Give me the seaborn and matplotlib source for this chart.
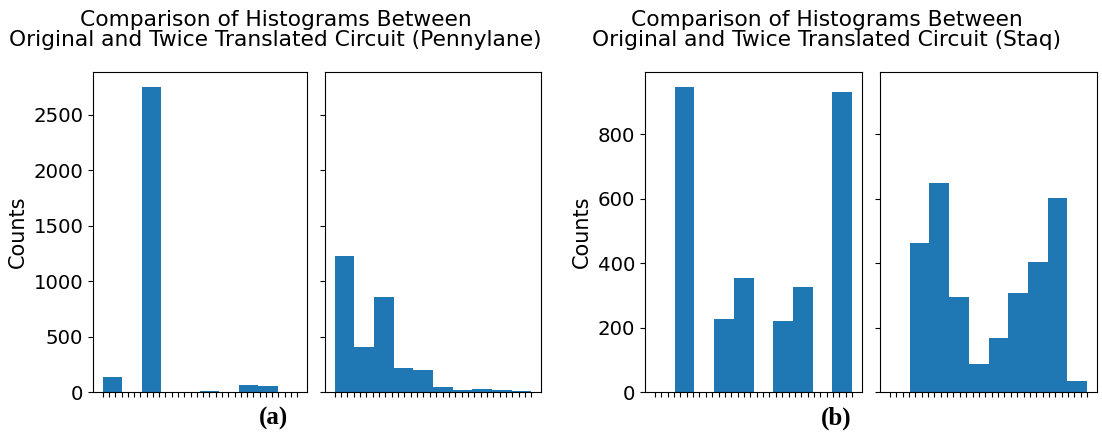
import numpy as np
import pandas as pd
import matplotlib
matplotlib.use("Agg")
import matplotlib.pyplot as plt
import seaborn as sns

# ---- data (counts per histogram bin, 10 bins over 32 bitstring categories) ----
n_categories = 32
n_bins = 10
pennylane_original = [132, 0, 2750, 0, 0, 8, 0, 64, 56, 0]
pennylane_twice = [1231, 405, 854, 219, 195, 48, 15, 24, 15, 13]
staq_original = [0, 945, 0, 225, 355, 0, 220, 325, 0, 930]
staq_twice = [0, 462, 649, 296, 87, 166, 306, 403, 601, 35]

title_pennylane = "Comparison of Histograms Between\nOriginal and Twice Translated Circuit (Pennylane)"
title_staq = "Comparison of Histograms Between\nOriginal and Twice Translated Circuit (Staq)"
ylabel = "Counts"
captions = ["(a)", "(b)"]

edges = np.linspace(0, n_categories - 1, n_bins + 1)
centers = (edges[:-1] + edges[1:]) / 2

W, H = 1102, 434
fig = plt.figure(figsize=(W / 100, H / 100), dpi=100)

def rect(left, right, top=72, bottom=392):
    return [left / W, 1 - bottom / H, (right - left) / W, (bottom - top) / H]

ax1 = fig.add_axes(rect(93, 307))
ax2 = fig.add_axes(rect(325, 541), sharey=ax1)
ax3 = fig.add_axes(rect(645, 862))
ax4 = fig.add_axes(rect(880, 1097), sharey=ax3)

TICK_FS = 14.2
LABEL_FS = 15
TITLE_FS = 15.7
for ax, counts in [(ax1, pennylane_original), (ax2, pennylane_twice),
                   (ax3, staq_original), (ax4, staq_twice)]:
    df = pd.DataFrame({"pos": centers, "count": np.asarray(counts, dtype=float)})
    sns.histplot(data=df, x="pos", weights="count", bins=n_bins,
                 binrange=(0, n_categories - 1), ax=ax,
                 color="#1f77b4", alpha=1, linewidth=0)
    ax.set_xticks(range(n_categories))
    ax.set_xticklabels([""] * n_categories)
    ax.set_xlabel("")
    ax.set_ylabel("")
    ax.tick_params(axis="x", length=3.5)
    ax.tick_params(axis="y", labelsize=TICK_FS)

ax1.set_ylabel(ylabel, fontsize=LABEL_FS)
ax3.set_ylabel(ylabel, fontsize=LABEL_FS)
ax1.set_yticks([0, 500, 1000, 1500, 2000, 2500])
ax3.set_yticks([0, 200, 400, 600, 800])
ax2.tick_params(axis="y", labelleft=False)
ax4.tick_params(axis="y", labelleft=False)

fig.text(0.25, 1 - 30 / H, title_pennylane, ha="center", va="center",
         fontsize=TITLE_FS, linespacing=1.05)
fig.text(0.75, 1 - 30 / H, title_staq, ha="center", va="center",
         fontsize=TITLE_FS, linespacing=1.05)

for x, cap in zip([273 / W, 836 / W], captions):
    fig.text(x, 1 - 418 / H, cap, ha="center", va="center", fontsize=18,
             fontweight="bold", family=["Liberation Serif", "DejaVu Serif"])

fig.savefig("out.png", dpi=100)
